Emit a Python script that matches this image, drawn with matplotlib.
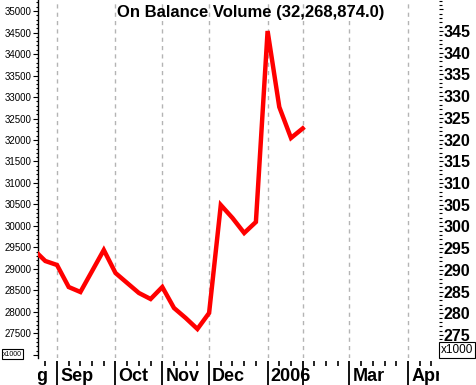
import matplotlib
matplotlib.use('Agg')
import matplotlib.pyplot as plt
import matplotlib.transforms as mtransforms
from matplotlib.ticker import FixedLocator, MultipleLocator, FuncFormatter

plt.rcParams['font.family'] = ['Liberation Sans', 'DejaVu Sans']

# weekly On Balance Volume (x1000), week index 0 = first week of Sep 2005
weeks = list(range(-2, 22))
obv = [29451, 29186, 29093, 28581, 28465, 28953, 29442, 28907, 28674, 28442,
       28302, 28581, 28093, 27860, 27605, 27977, 30488, 30186, 29837, 30093,
       34535, 32767, 32047, 32269]

# month markers (week index of first week of each month)
month_names = ['Aug', 'Sep', 'Oct', 'Nov', 'Dec', '2006', '', 'Mar', 'Apr']
month_pos = [-4, 0, 5, 9, 13, 18, 21, 25, 30]

left_ticks = list(range(27000, 35001, 500))
right_ticks = list(range(270, 351, 5))
title = 'On Balance Volume (32,268,874.0)'

W, H = 476, 385
fig = plt.figure(figsize=(W / 100, H / 100), dpi=100)
x0, x1, ytop, ybot = 38, 439, 0, 358
ax = fig.add_axes([x0 / W, (H - ybot) / H, (x1 - x0) / W, (ybot - ytop) / H])

ax.plot(weeks, obv, color='#ff0000', lw=3.2, solid_joinstyle='miter', zorder=3)

ax.set_xlim(-1.624, 32.65)
ax.set_ylim(26930, 35256)

# vertical dashed month grid
for p in month_pos:
    ax.axvline(p, color='#b4b4b4', lw=1, ls=(0, (3, 3)), zorder=1)

for s in ['top', 'right']:
    ax.spines[s].set_visible(False)
ax.spines['bottom'].set_position(('outward', 2.5))
ax.spines['bottom'].set_visible(False)
ax.spines['left'].set_linewidth(1)

# x ticks: weekly minor, monthly tall bars
ax.xaxis.set_major_locator(FixedLocator(month_pos))
ax.xaxis.set_minor_locator(MultipleLocator(1))
ax.tick_params(axis='x', which='major', length=18, width=1.3, labelbottom=False)
ax.tick_params(axis='x', which='minor', length=3.8, width=1.2)

# month labels, clipped to the plotting width
lab_tr = mtransforms.offset_copy(ax.get_xaxis_transform(), fig=fig, x=2.2, y=-13, units='points')
fig.canvas.draw()
clip = mtransforms.Bbox.from_extents(x0, 0, x1, H)
for name, p in zip(month_names, month_pos):
    if not name:
        continue
    t = ax.text(p, 0, name, transform=lab_tr, ha='left', va='center',
                fontsize=13, fontweight='bold', clip_on=True)
    t.set_clip_box(mtransforms.TransformedBbox(clip, mtransforms.IdentityTransform()))

# left axis
ax.yaxis.set_major_locator(FixedLocator(left_ticks))
ax.yaxis.set_minor_locator(MultipleLocator(100))
ax.yaxis.set_major_formatter(FuncFormatter(lambda v, _: '' if v < 27400 else '%d' % v))
ax.tick_params(axis='y', which='major', length=3.6, width=0.8, labelsize=7, pad=1)
ax.tick_params(axis='y', which='minor', length=1.8, width=0.8)

# right axis
ax2 = ax.twinx()
ax2.set_ylim(269.7, 352.14)
for s in ax2.spines.values():
    s.set_visible(False)
ax2.yaxis.set_major_locator(FixedLocator(right_ticks))
ax2.yaxis.set_minor_locator(MultipleLocator(1))
ax2.yaxis.set_major_formatter(FuncFormatter(lambda v, _: '' if v < 272 or v > 347 else '%d' % v))
ax2.tick_params(axis='y', which='major', length=3, width=0.8, labelsize=11.5, pad=0.5)
ax2.tick_params(axis='y', which='minor', length=2, width=0.8)
for lab in ax2.get_yticklabels():
    lab.set_fontweight('bold')

fig.text(251 / W, 1 - 13 / H, title, ha='center', va='center', fontsize=12, fontweight='bold')

# x1000 boxes
fig.text(3 / W, 1 - 354 / H, 'x1000', ha='left', va='center', fontsize=5,
         bbox=dict(boxstyle='square,pad=0.15', fc='white', ec='black', lw=0.8))
fig.text(441 / W, 1 - 350 / H, 'x1000', ha='left', va='center', fontsize=8.5,
         bbox=dict(boxstyle='square,pad=0.15', fc='white', ec='black', lw=0.8))

fig.savefig('out.png', dpi=100)
